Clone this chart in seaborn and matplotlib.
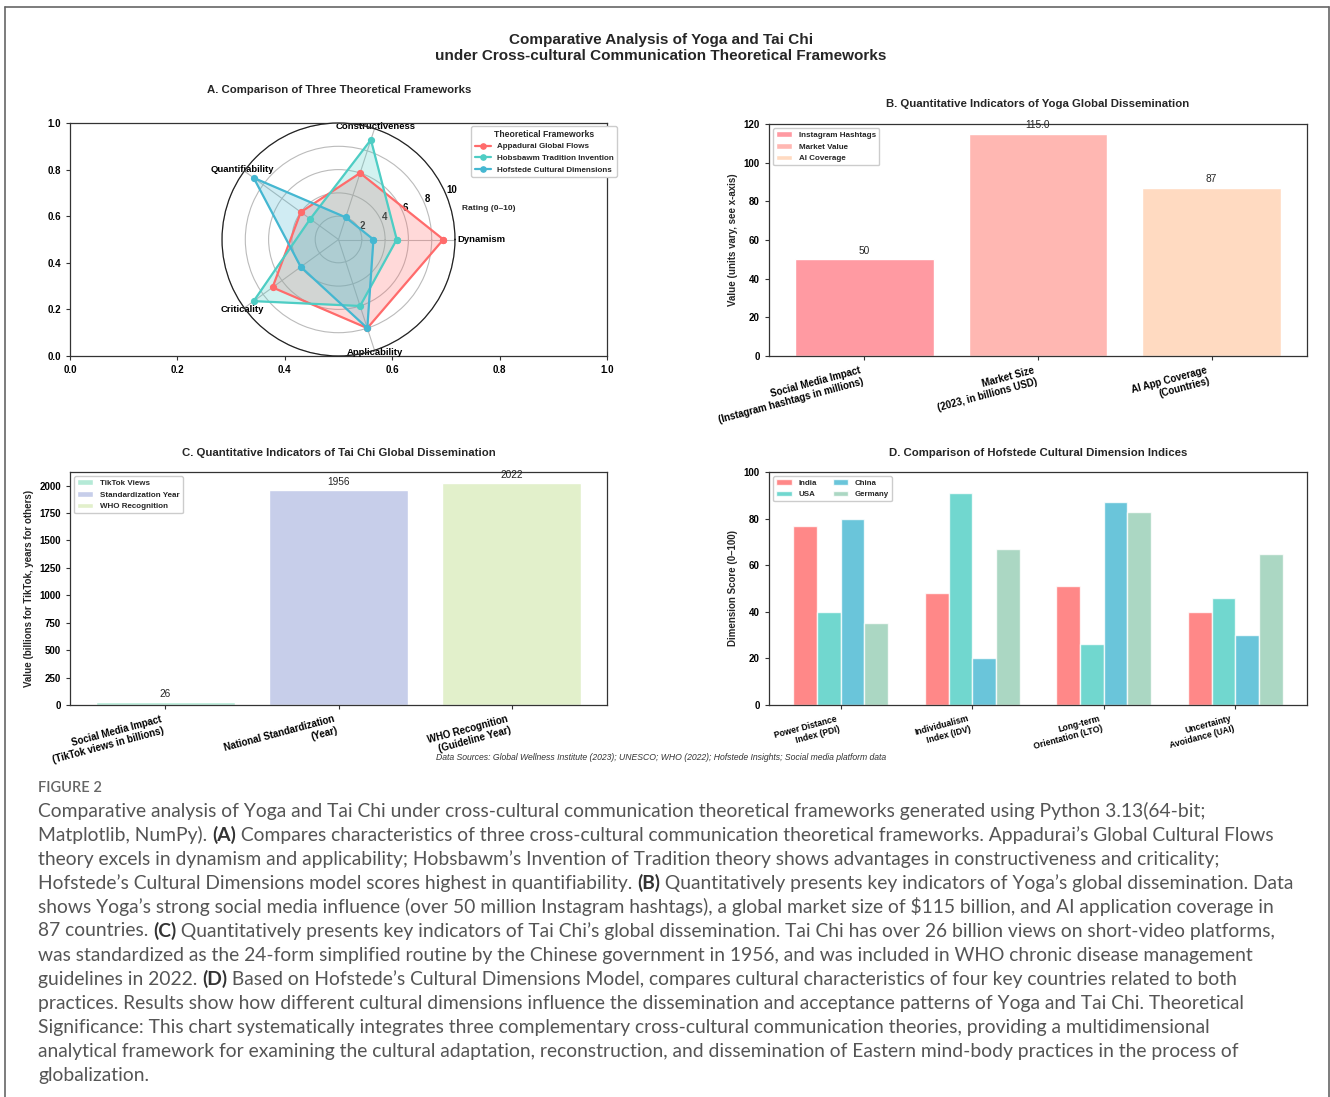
import numpy as np
import pandas as pd
import matplotlib
matplotlib.use("Agg")
import matplotlib.pyplot as plt
import seaborn as sns

# ---------------- data ----------------
radar_dims = ["Dynamism", "Constructiveness", "Quantifiability", "Criticality", "Applicability"]
frameworks = ["Appadurai Global Flows", "Hobsbawm Tradition Invention", "Hofstede Cultural Dimensions"]
appadurai = [9, 6, 4, 7, 8]
hobsbawm = [5, 9, 3, 9, 6]
hofstede = [3, 2, 9, 4, 8]
radar_ticks = [2, 4, 6, 8, 10]
radar_colors = ["#FF6B6B", "#4ECDC4", "#45B7D1"]

yoga_cats = ["Social Media Impact\n(Instagram hashtags in millions)",
             "Market Size\n(2023, in billions USD)",
             "AI App Coverage\n(Countries)"]
yoga_vals = [50, 115.0, 87]
yoga_legend = ["Instagram Hashtags", "Market Value", "AI Coverage"]
yoga_colors = ["#FF9AA2", "#FFB7B2", "#FFDAC1"]

taichi_cats = ["Social Media Impact\n(TikTok views in billions)",
               "National Standardization\n(Year)",
               "WHO Recognition\n(Guideline Year)"]
taichi_vals = [26, 1956, 2022]
taichi_legend = ["TikTok Views", "Standardization Year", "WHO Recognition"]
taichi_colors = ["#B5EAD7", "#C7CEEA", "#E2F0CB"]

hof_dims = ["Power Distance\nIndex (PDI)", "Individualism\nIndex (IDV)",
            "Long-term\nOrientation (LTO)", "Uncertainty\nAvoidance (UAI)"]
countries = ["India", "USA", "China", "Germany"]
india = [77, 48, 51, 40]
usa = [40, 91, 26, 46]
china = [80, 20, 87, 30]
germany = [35, 67, 83, 65]
country_colors = ["#FF6B6B", "#4ECDC4", "#45B7D1", "#96CEB4"]

caption_lines = [
    "Comparative analysis of Yoga and Tai Chi under cross-cultural communication theoretical frameworks generated using Python 3.13(64-bit;",
    "Matplotlib, NumPy). **(A)** Compares characteristics of three cross-cultural communication theoretical frameworks. Appadurai\u2019s Global Cultural Flows",
    "theory excels in dynamism and applicability; Hobsbawm\u2019s Invention of Tradition theory shows advantages in constructiveness and criticality;",
    "Hofstede\u2019s Cultural Dimensions model scores highest in quantifiability. **(B)** Quantitatively presents key indicators of Yoga\u2019s global dissemination. Data",
    "shows Yoga\u2019s strong social media influence (over 50 million Instagram hashtags), a global market size of \\$115 billion, and AI application coverage in",
    "87 countries. **(C)** Quantitatively presents key indicators of Tai Chi\u2019s global dissemination. Tai Chi has over 26 billion views on short-video platforms,",
    "was standardized as the 24-form simplified routine by the Chinese government in 1956, and was included in WHO chronic disease management",
    "guidelines in 2022. **(D)** Based on Hofstede\u2019s Cultural Dimensions Model, compares cultural characteristics of four key countries related to both",
    "practices. Results show how different cultural dimensions influence the dissemination and acceptance patterns of Yoga and Tai Chi. Theoretical",
    "Significance: This chart systematically integrates three complementary cross-cultural communication theories, providing a multidimensional",
    "analytical framework for examining the cultural adaptation, reconstruction, and dissemination of Eastern mind-body practices in the process of",
    "globalization.",
]

# ---------------- style ----------------
sns.set_theme(style="ticks")
plt.rcParams.update({
    "font.family": ["Liberation Sans", "DejaVu Sans"],
    "font.weight": "bold",
    "axes.labelweight": "bold",
    "axes.titleweight": "bold",
    "axes.edgecolor": "#333333",
    "axes.linewidth": 0.9,
    "xtick.color": "#333333",
    "ytick.color": "#333333",
    "xtick.labelcolor": "black",
    "ytick.labelcolor": "black",
    "xtick.major.size": 3,
    "ytick.major.size": 3,
    "xtick.major.width": 0.8,
    "ytick.major.width": 0.8,
    "xtick.labelsize": 7,
    "ytick.labelsize": 7,
    "axes.labelsize": 7,
    "legend.fontsize": 5.8,
})

W, H = 1330, 1097
fig = plt.figure(figsize=(W / 100, H / 100), dpi=100)
fig.patch.set_facecolor("white")


def rect(l, t, r, b):
    return [l / W, 1 - b / H, (r - l) / W, (b - t) / H]


def ftext(x, y, s, **kw):
    return fig.text(x / W, 1 - y / H, s, **kw)


# frame
for xs, ys in [((5, 5), (7, H)), ((5, 1329), (7, 7)), ((1329, 1329), (7, H))]:
    fig.add_artist(plt.Line2D([x / W for x in xs], [1 - y / H for y in ys],
                              color="#666666", lw=1.2))

# titles
ftext(661, 48, "Comparative Analysis of Yoga and Tai Chi\nunder Cross-cultural Communication Theoretical Frameworks",
      ha="center", va="center", fontsize=11, fontweight="bold", linespacing=1.1)

TITLE_FS = 8.2

# ---------------- Panel A ----------------
axA = fig.add_axes(rect(70, 123, 607, 356))
axP = fig.add_axes(rect(70, 123, 607, 356), projection="polar")
angles = np.linspace(0, 2 * np.pi, len(radar_dims), endpoint=False)
ang_c = np.concatenate([angles, angles[:1]])
for name, vals, col in zip(frameworks, [appadurai, hobsbawm, hofstede], radar_colors):
    v = np.concatenate([vals, vals[:1]])
    axP.plot(ang_c, v, "o-", color=col, lw=1.6, ms=4.2, label=name)
    axP.fill(ang_c, v, color=col, alpha=0.25)
axP.set_ylim(0, 10)
axP.set_yticks(radar_ticks)
axP.set_yticklabels([str(t) for t in radar_ticks], fontsize=7, fontweight="bold")
axP.set_xticks(angles)
axP.set_xticklabels(radar_dims, fontsize=6.8, fontweight="bold")
axP.tick_params(axis="x", pad=-8.5)
for lab, a in zip(axP.get_xticklabels(), angles):
    if a == 0:
        lab.set_horizontalalignment("left")
axP.grid(True, color="#bbbbbb", lw=0.8)
axP.spines["polar"].set_color("#222222")
axP.spines["polar"].set_linewidth(0.9)
axP.text(1.03, 0.635, "Rating (0\u201310)", transform=axP.transAxes, ha="left", va="center",
         fontsize=6, fontweight="bold")
axP.legend(loc="upper left", bbox_to_anchor=(1.07, 0.985), borderaxespad=0,
           title="Theoretical Frameworks", title_fontproperties={"weight": "bold", "size": 6.2},
           fontsize=5.8, framealpha=1, edgecolor="#cccccc", markerscale=0.9)
ftext(339, 90, "A. Comparison of Three Theoretical Frameworks", ha="center", va="center",
      fontsize=TITLE_FS, fontweight="bold")

# ---------------- Panel B ----------------
axB = fig.add_axes(rect(769, 124, 1307, 356))
dfB = pd.DataFrame({"cat": yoga_cats, "val": yoga_vals, "leg": yoga_legend})
sns.barplot(data=dfB, x="cat", y="val", hue="leg", palette=yoga_colors, dodge=False,
            saturation=1, errorbar=None, ax=axB, legend=False)
for c, v in zip(axB.containers, yoga_vals):
    axB.bar_label(c, labels=[str(v)], padding=2.5, fontsize=7.3, fontweight="normal")
axB.set_ylim(0, 120)
axB.set_xlim(-0.55, len(yoga_vals) - 0.45)
axB.set_xlabel("")
axB.set_ylabel("Value (units vary, see x-axis)")
axB.yaxis.set_label_coords(-0.058, 0.5)
plt.setp(axB.get_xticklabels(), rotation=15, ha="right")
axB.legend(axB.containers, yoga_legend, loc="upper left", framealpha=1, edgecolor="#cccccc")
ftext(1038, 104, "B. Quantitative Indicators of Yoga Global Dissemination", ha="center", va="center",
      fontsize=TITLE_FS, fontweight="bold")

# ---------------- Panel C ----------------
axC = fig.add_axes(rect(70, 472, 607, 705))
dfC = pd.DataFrame({"cat": taichi_cats, "val": taichi_vals, "leg": taichi_legend})
sns.barplot(data=dfC, x="cat", y="val", hue="leg", palette=taichi_colors, dodge=False,
            saturation=1, errorbar=None, ax=axC, legend=False)
for c, v in zip(axC.containers, taichi_vals):
    axC.bar_label(c, labels=[str(v)], padding=2.5, fontsize=7.3, fontweight="normal")
axC.set_ylim(0, max(taichi_vals) * 1.05)
axC.set_yticks(np.arange(0, 2001, 250))
axC.set_xlim(-0.55, len(taichi_vals) - 0.45)
axC.set_xlabel("")
axC.set_ylabel("Value (billions for TikTok, years for others)")
axC.yaxis.set_label_coords(-0.067, 0.5)
plt.setp(axC.get_xticklabels(), rotation=15, ha="right")
axC.legend(axC.containers, taichi_legend, loc="upper left", framealpha=1, edgecolor="#cccccc")
ftext(339, 453, "C. Quantitative Indicators of Tai Chi Global Dissemination", ha="center", va="center",
      fontsize=TITLE_FS, fontweight="bold")

# ---------------- Panel D ----------------
axD = fig.add_axes(rect(769, 472, 1307, 705))
dfD = pd.DataFrame({
    "dim": hof_dims * 4,
    "country": np.repeat(countries, len(hof_dims)),
    "score": india + usa + china + germany,
})
sns.barplot(data=dfD, x="dim", y="score", hue="country", palette=country_colors, width=0.72,
            saturation=1, errorbar=None, alpha=0.8, ax=axD, legend=False)
axD.set_ylim(0, 100)
axD.set_xlim(-0.546, len(hof_dims) - 0.454)
axD.set_xlabel("")
axD.set_ylabel("Dimension Score (0\u2013100)")
axD.yaxis.set_label_coords(-0.058, 0.5)
plt.setp(axD.get_xticklabels(), rotation=15, ha="right", fontsize=6.2)
axD.legend(axD.containers, countries, loc="upper left", ncol=2, framealpha=1, edgecolor="#cccccc",
           fontsize=5.7)
ftext(1038, 453, "D. Comparison of Hofstede Cultural Dimension Indices", ha="center", va="center",
      fontsize=TITLE_FS, fontweight="bold")

# data source
ftext(661, 757, "Data Sources: Global Wellness Institute (2023); UNESCO; WHO (2022); Hofstede Insights; Social media platform data",
      ha="center", va="center", fontsize=6.2, fontstyle="italic", fontweight="normal", color="#333333")

# ---------------- caption ----------------
ftext(38, 788, "FIGURE 2", ha="left", va="center", fontsize=10.5, fontweight="semibold",
      color="#666666", family=["Lato", "DejaVu Sans"])

renderer = fig.canvas.get_renderer()
cap_family = ["Lato", "DejaVu Sans"]


def draw_line(y, line, fs, keep=True):
    parts = line.split("**")
    x = 38.0
    made = []
    for i, seg in enumerate(parts):
        if not seg:
            continue
        bold = i % 2 == 1
        t = ftext(x, y, seg, ha="left", va="center", fontsize=fs,
                  fontweight="bold" if bold else "normal",
                  color="#333333" if bold else "#555555", family=cap_family)
        bb = t.get_window_extent(renderer)
        x += bb.width
        made.append(t)
    if not keep:
        for t in made:
            t.remove()
    return x


fs0 = 13.0
end = draw_line(0, caption_lines[3], fs0, keep=False)
fs = fs0 * (1292 - 38) / (end - 38)
for k, line in enumerate(caption_lines):
    draw_line(811 + 24 * k, line, fs)

fig.savefig("out.png", dpi=100, facecolor="white")
